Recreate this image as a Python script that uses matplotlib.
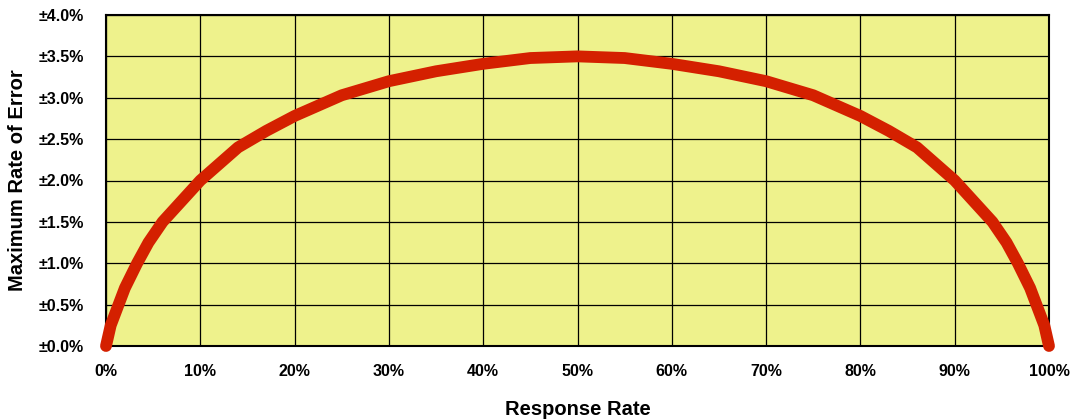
import numpy as np
import matplotlib.pyplot as plt

plt.rcParams['font.family'] = ['Liberation Sans', 'DejaVu Sans']

# response rate (%) and maximum rate of error (%)
response = [0, 0.5, 1, 2, 3.3, 4.5, 6, 8, 10, 12.5, 14, 17, 20, 25, 30, 35, 40, 45, 50,
            55, 60, 65, 70, 75, 80, 83, 86, 87.5, 90, 92, 94, 95.5, 96.7, 98, 99, 99.5, 100]
error = [0.0, 0.25, 0.4, 0.7, 1.0, 1.25, 1.5, 1.75, 2.0, 2.25, 2.4, 2.6, 2.78, 3.03, 3.2, 3.32, 3.41, 3.48, 3.5,
         3.48, 3.41, 3.32, 3.2, 3.03, 2.78, 2.6, 2.4, 2.25, 2.0, 1.75, 1.5, 1.25, 1.0, 0.7, 0.4, 0.25, 0.0]

xticks = np.arange(0, 101, 10)
yticks = np.arange(0, 4.01, 0.5)

fig = plt.figure(figsize=(10.72, 4.2), dpi=100)
ax = fig.add_axes([106 / 1072, 1 - 346 / 420, 943 / 1072, 331 / 420])
ax.set_facecolor('#eef28c')

ax.plot(response, error, color='#d42000', lw=8.5, solid_capstyle='round',
        solid_joinstyle='round', clip_on=False, zorder=3)

ax.set_xlim(0, 100)
ax.set_ylim(0, 4)
ax.set_xticks(xticks)
ax.set_yticks(yticks)
ax.set_xticklabels(['%d%%' % t for t in xticks], fontsize=11.5, fontweight='bold')
ax.set_yticklabels(['\u00b1%.1f%%' % t for t in yticks], fontsize=11.5, fontweight='bold')
ax.tick_params(length=0)
ax.tick_params(axis='x', pad=13)
ax.tick_params(axis='y', pad=16)
ax.grid(True, color='black', lw=0.9)
ax.set_axisbelow(True)
for s in ax.spines.values():
    s.set_linewidth(1.5)

ax.set_xlabel('Response Rate', fontsize=14.5, fontweight='bold', labelpad=15)
ax.set_ylabel('Maximum Rate of Error', fontsize=14.5, fontweight='bold')
ax.yaxis.set_label_coords((27 - 106) / 943, 0.5)

fig.savefig('out.png', dpi=100)
